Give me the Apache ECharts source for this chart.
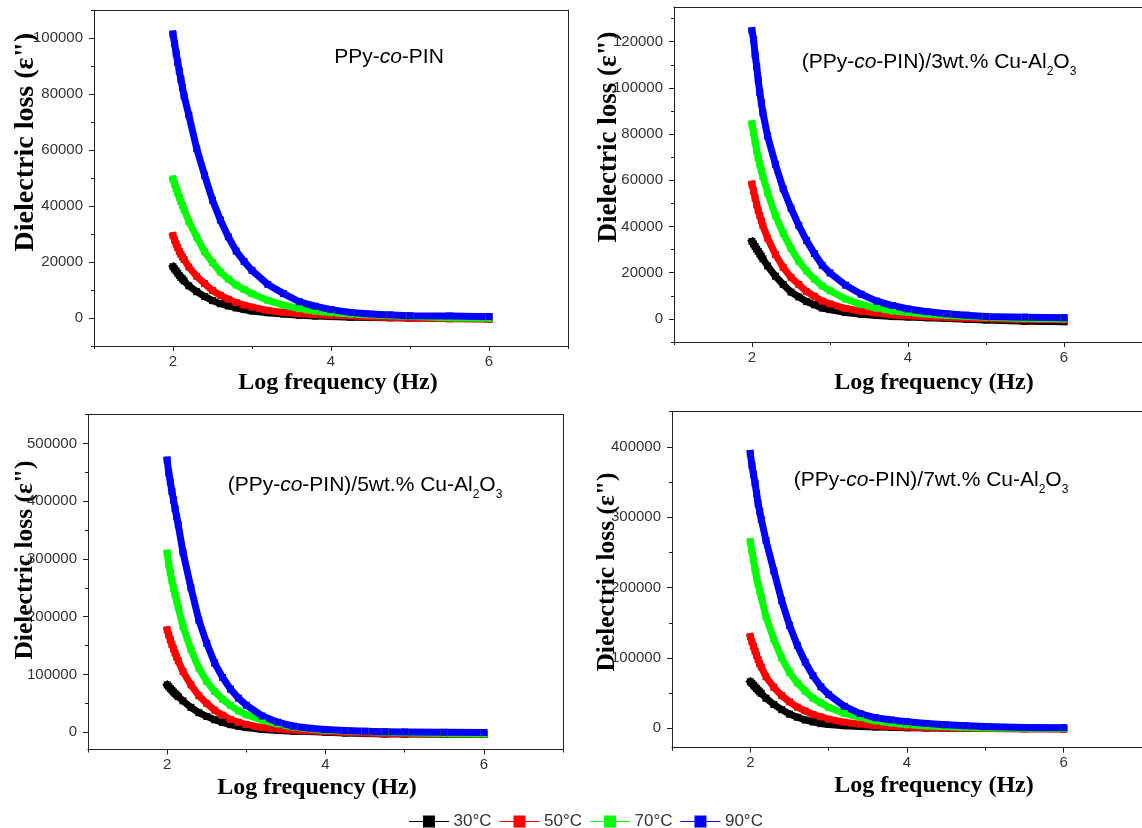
<!DOCTYPE html>
<html><head><meta charset="utf-8">
<script src="https://cdn.jsdelivr.net/npm/echarts@6/dist/echarts.min.js"></script>
<style>html,body{margin:0;padding:0;background:#fff}#c{width:1142px;height:828px}</style>
</head><body><div id="c"></div>
<script>
// ---- data ----
const logFreq = [2.00, 2.02, 2.04, 2.06, 2.08, 2.10, 2.12, 2.14, 2.2, 2.3, 2.4, 2.5, 2.6, 2.7, 2.8, 2.9, 3.0, 3.2, 3.4, 3.6, 3.8, 4.0, 4.25, 4.5, 4.75, 5.0, 5.5, 6.0];
const tempNames = ['30°C', '50°C', '70°C', '90°C'];

// Panel 1: PPy-co-PIN
const p1_30 = [18300, 17500, 16800, 16000, 15200, 14500, 13900, 13300, 11500, 9400, 7700, 6200, 5100, 4300, 3600, 3000, 2500, 1900, 1400, 1000, 700, 500, 300, 150, 50, 0, -100, -100];
const p1_50 = [29400, 27900, 26400, 25100, 23800, 22700, 21800, 20900, 18200, 14900, 12300, 9800, 8100, 6700, 5500, 4600, 3900, 2700, 2000, 1500, 1200, 950, 700, 400, 200, 0, -300, -400];
const p1_70 = [49600, 47900, 46300, 44700, 43100, 41600, 40200, 38800, 34500, 28900, 23600, 19800, 16400, 13900, 11800, 10200, 8700, 6300, 4600, 3300, 2400, 1900, 1400, 1100, 800, 600, 0, -100];
const p1_90 = [101400, 98000, 94500, 91300, 88200, 85200, 82300, 79300, 72500, 60500, 51000, 42100, 35000, 29000, 23900, 20200, 17000, 12000, 8700, 5800, 4200, 3000, 2000, 1400, 1100, 800, 700, 500];

// Panel 2: (PPy-co-PIN)/3wt.% Cu-Al2O3
const p2_30 = [33500, 32400, 31300, 30200, 29200, 28100, 27100, 26000, 22900, 18500, 14900, 11600, 9500, 7500, 6100, 4700, 4000, 2800, 2000, 1500, 1000, 800, 500, 200, -200, -500, -1000, -1200];
const p2_50 = [58300, 55400, 52400, 49500, 46900, 44800, 42500, 40300, 35000, 27900, 22300, 18000, 14900, 11800, 9800, 7700, 6500, 4500, 3300, 2500, 1700, 1300, 900, 550, 300, 100, -300, -400];
const p2_70 = [84400, 80500, 76600, 72800, 69600, 67000, 64300, 61600, 54700, 44800, 37100, 30500, 25000, 20700, 17200, 14300, 12200, 8600, 6200, 4600, 3400, 2800, 2000, 1500, 1100, 700, 200, 0];
const p2_90 = [124700, 121000, 114300, 109200, 103300, 98000, 93600, 89100, 79200, 66900, 56300, 47900, 40400, 33900, 28300, 23200, 19900, 14600, 10700, 7700, 5800, 4300, 3100, 2200, 1600, 1050, 750, 500];

// Panel 3: (PPy-co-PIN)/5wt.% Cu-Al2O3
const p3_30 = [81800, 78700, 75700, 72600, 69600, 66900, 64200, 61500, 54200, 43000, 33700, 27300, 21500, 16800, 13000, 10300, 7900, 4800, 3100, 1800, 1000, 0, -1500, -2500, -3000, -3200, -3500, -3500];
const p3_50 = [177000, 168400, 159900, 151700, 144400, 137000, 129900, 123600, 104900, 82000, 63100, 49600, 38000, 29400, 21900, 17200, 13200, 7700, 5300, 3400, 2200, 1000, -500, -1500, -2200, -2800, -3200, -3400];
const p3_70 = [309700, 290000, 276000, 262300, 249300, 238300, 227300, 216300, 182700, 143300, 111000, 87800, 70500, 56900, 46400, 37000, 30100, 20700, 14100, 8800, 5600, 3500, 2000, 1000, 0, -1000, -2500, -3000];
const p3_90 = [471000, 449000, 433000, 417000, 402000, 387000, 373000, 359000, 311500, 250000, 194000, 153900, 119600, 94700, 74500, 59000, 46700, 28000, 17100, 10300, 6800, 4600, 2800, 1600, 800, 300, -300, -500];

// Panel 4: (PPy-co-PIN)/7wt.% Cu-Al2O3
const p4_30 = [66200, 63800, 61300, 58900, 56500, 54100, 51800, 49600, 42800, 33900, 26600, 20200, 15800, 11900, 9100, 6700, 5500, 3800, 2800, 2000, 1400, 900, 500, 200, 0, -200, -400, -500];
const p4_50 = [130200, 123300, 116400, 109700, 103700, 97700, 91800, 87200, 73300, 58300, 46600, 37700, 30100, 24800, 19700, 16200, 13000, 8700, 5900, 3800, 2600, 1800, 1000, 400, 0, -300, -600, -800];
const p4_70 = [265000, 252200, 239200, 226000, 213600, 204600, 195600, 186600, 158600, 126500, 99900, 79400, 64500, 53100, 43000, 36200, 29800, 21100, 15500, 10500, 7500, 5200, 3500, 2200, 1300, 600, 0, -300];
const p4_90 = [390600, 374000, 361000, 348500, 333800, 319000, 308000, 297000, 266900, 223700, 181700, 146300, 118000, 94200, 74900, 59100, 48000, 31400, 21000, 15000, 12000, 9500, 7000, 5000, 3600, 2500, 1300, 800];

// tick values
const xMajorTicks = [2, 4, 6];
const xMinorTicks = [1, 3, 5, 7];
const p1YMajor = [0, 20000, 40000, 60000, 80000, 100000];
const p1YMinor = [-10000, 10000, 30000, 50000, 70000, 90000, 110000];
const p2YMajor = [0, 20000, 40000, 60000, 80000, 100000, 120000];
const p2YMinor = [-10000, 10000, 30000, 50000, 70000, 90000, 110000, 130000];
const p3YMajor = [0, 100000, 200000, 300000, 400000, 500000];
const p3YMinor = [50000, 150000, 250000, 350000, 450000, 550000];
const p4YMajor = [0, 100000, 200000, 300000, 400000];
const p4YMinor = [50000, 150000, 250000, 350000, 450000];

const panelTitles = [
  '{m|PPy-}{i|co}{m|-PIN}',
  '{m|(PPy-}{i|co}{m|-PIN)/3wt.% Cu-Al}{s|2}{m|O}{s|3}',
  '{m|(PPy-}{i|co}{m|-PIN)/5wt.% Cu-Al}{s|2}{m|O}{s|3}',
  '{m|(PPy-}{i|co}{m|-PIN)/7wt.% Cu-Al}{s|2}{m|O}{s|3}'
];
const yTitle = 'Dielectric loss (ε")';
const xTitle = 'Log frequency (Hz)';

// ---- layout / style ----
const colors = ['#000000', '#ff0000', '#00ff00', '#0000ff'];
const panels = [
  {series: [p1_30, p1_50, p1_70, p1_90], yMin: -10000, yMax: 110000, yMajor: p1YMajor, yMinor: p1YMinor,
   grid: {left: 94, top: 10, width: 474, height: 336},
   yT: [26, 142, 28], xT: [338, 383], ann: [389, 57]},
  {series: [p2_30, p2_50, p2_70, p2_90], yMin: -10000, yMax: 135000, yMajor: p2YMajor, yMinor: p2YMinor,
   grid: {left: 674, top: 7, width: 473, height: 335},
   yT: [609, 137, 27], xT: [934, 383], ann: [939, 62]},
  {series: [p3_30, p3_50, p3_70, p3_90], yMin: -30000, yMax: 550000, yMajor: p3YMajor, yMinor: p3YMinor,
   grid: {left: 88, top: 414.5, width: 475, height: 335},
   yT: [25, 560, 25.5], xT: [317, 788], ann: [365, 485]},
  {series: [p4_30, p4_50, p4_70, p4_90], yMin: -27500, yMax: 450000, yMajor: p4YMajor, yMinor: p4YMinor,
   grid: {left: 672, top: 411.7, width: 473, height: 336},
   yT: [607, 572, 25.5], xT: [934, 786], ann: [931, 480]}
];

const axisColor = '#222';
const plainNum = v => String(v);
const labelStyle = {fontFamily: 'Liberation Sans', fontSize: 15, color: '#333', formatter: plainNum};
const grids = [], xAxes = [], yAxes = [], series = [], graphics = [];

panels.forEach((p, pi) => {
  grids.push(Object.assign({containLabel: false}, p.grid));
  const lineStyle = {color: axisColor, width: 1};
  // x axes: main, minor ticks, top frame
  xAxes.push({type: 'value', gridIndex: pi, min: 1, max: 7, position: 'bottom',
    axisLine: {show: true, onZero: false, lineStyle},
    axisTick: {show: true, inside: false, length: 5, customValues: xMajorTicks, lineStyle},
    axisLabel: Object.assign({show: true, margin: 8, customValues: xMajorTicks}, labelStyle),
    splitLine: {show: false}});
  xAxes.push({type: 'value', gridIndex: pi, min: 1, max: 7, position: 'bottom',
    axisLine: {show: false, onZero: false},
    axisTick: {show: true, inside: false, length: 3, customValues: xMinorTicks, lineStyle},
    axisLabel: {show: false}, splitLine: {show: false}});
  xAxes.push({type: 'value', gridIndex: pi, min: 1, max: 7, position: 'top',
    axisLine: {show: true, onZero: false, lineStyle},
    axisTick: {show: false}, axisLabel: {show: false}, splitLine: {show: false}});
  // y axes
  yAxes.push({type: 'value', gridIndex: pi, min: p.yMin, max: p.yMax, position: 'left',
    axisLine: {show: true, onZero: false, lineStyle},
    axisTick: {show: true, inside: false, length: 5, customValues: p.yMajor, lineStyle},
    axisLabel: Object.assign({show: true, margin: 11, customValues: p.yMajor}, labelStyle),
    splitLine: {show: false}});
  yAxes.push({type: 'value', gridIndex: pi, min: p.yMin, max: p.yMax, position: 'left',
    axisLine: {show: false, onZero: false},
    axisTick: {show: true, inside: false, length: 3, customValues: p.yMinor, lineStyle},
    axisLabel: {show: false}, splitLine: {show: false}});
  yAxes.push({type: 'value', gridIndex: pi, min: p.yMin, max: p.yMax, position: 'right',
    axisLine: {show: true, onZero: false, lineStyle},
    axisTick: {show: false}, axisLabel: {show: false}, splitLine: {show: false}});

  p.series.forEach((vals, k) => {
    series.push({
      type: 'line', name: tempNames[k], xAxisIndex: pi * 3, yAxisIndex: pi * 3,
      data: logFreq.map((x, i) => [x, vals[i]]),
      symbol: 'rect', symbolSize: 7, showAllSymbol: true,
      lineStyle: {width: 7, color: colors[k], cap: 'square', join: 'miter'},
      itemStyle: {color: colors[k]},
      emphasis: {disabled: true}, silent: true
    });
  });

  graphics.push({type: 'text', x: p.yT[0], y: p.yT[1], rotation: Math.PI / 2,
    style: {text: yTitle, fontFamily: 'Liberation Serif', fontWeight: 'bold', fontSize: p.yT[2],
      fill: '#000', align: 'center', verticalAlign: 'middle'}});
  graphics.push({type: 'text', x: p.xT[0], y: p.xT[1],
    style: {text: xTitle, fontFamily: 'Liberation Serif', fontWeight: 'bold', fontSize: 24,
      fill: '#000', align: 'center', verticalAlign: 'middle'}});
  graphics.push({type: 'text', x: p.ann[0], y: p.ann[1],
    style: {text: panelTitles[pi], align: 'center', verticalAlign: 'middle', fill: '#000',
      rich: {
        m: {fontFamily: 'Liberation Sans', fontSize: 21, lineHeight: 24, fill: '#000'},
        i: {fontFamily: 'Liberation Sans', fontSize: 21, lineHeight: 24, fontStyle: 'italic', fill: '#000'},
        s: {fontFamily: 'Liberation Sans', fontSize: 12, lineHeight: 12, padding: [20, 0, 0, 0], fill: '#000'}
      }}});
});

const chart = echarts.init(document.getElementById('c'), null, {renderer: 'canvas'});
chart.setOption({
  animation: false,
  backgroundColor: '#ffffff',
  grid: grids, xAxis: xAxes, yAxis: yAxes, series: series,
  legend: {
    data: tempNames, left: 404, top: 808, orient: 'horizontal',
    itemWidth: 39, itemHeight: 15, itemGap: 8,
    lineStyle: {width: 1},
    textStyle: {fontFamily: 'Liberation Sans', fontSize: 17, color: '#333'}
  },
  graphic: graphics
});
</script></body></html>
